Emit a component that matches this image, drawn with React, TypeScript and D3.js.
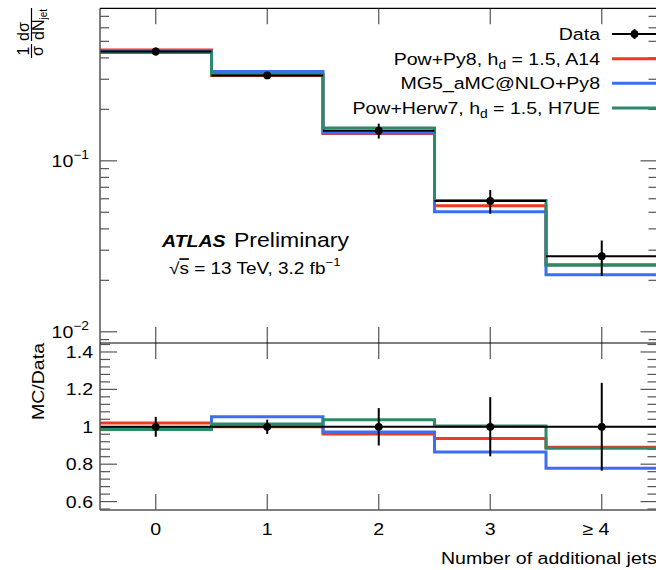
import React from "react";
import * as d3 from "d3";

// ---- data ----
const categories = ["0", "1", "2", "3", "≥ 4"];
const binCenters = [0, 1, 2, 3, 4];
const dataValues = [0.436, 0.316, 0.15, 0.0583, 0.0277];
const dataRelErr = [0.053, 0.038, 0.1, 0.158, 0.235];
const ratioPowPy8 = [1.02, 1.0, 0.962, 0.938, 0.89];
const ratioMG5 = [0.995, 1.053, 0.972, 0.865, 0.778];
const ratioPowHerw7 = [0.985, 1.015, 1.038, 1.004, 0.885];
const seriesNames = ["Pow+Py8", "MG5_aMC@NLO+Py8", "Pow+Herw7"];
const seriesColors = ["#ee3a1f", "#3b6ef5", "#2b8a68"];

const FONT = "'Liberation Sans', Arial, Helvetica, sans-serif";
const SX = 1.15;

function T(props: any) {
  const { x, y, size = 17, anchor = "start", children, weight, italic, sx = SX, rotate } = props;
  const tr = `translate(${x},${y})${rotate ? ` rotate(${rotate})` : ""} scale(${sx},1)`;
  return (
    <text
      transform={tr}
      fontSize={size}
      textAnchor={anchor}
      fontFamily={FONT}
      fontWeight={weight || "normal"}
      fontStyle={italic ? "italic" : "normal"}
      fill="#000"
    >
      {children}
    </text>
  );
}

export default function App() {
  const W = 656, H = 570;
  const x0 = 100, x1 = 657.5;
  const yTop = 8.3, yMid = 343, yBot = 510;
  const x = d3.scaleLinear().domain([-0.5, 4.5]).range([x0, x1]);
  const y = d3.scaleLog().domain([0.0086, 0.78]).range([yMid, yTop]);
  const r = d3.scaleLinear().domain([0.555, 1.448]).range([yBot, yMid]);
  const edges = binCenters.map((c) => c - 0.5).concat([4.5]);

  const ratios = [ratioPowPy8, ratioMG5, ratioPowHerw7];
  const mcValues = ratios.map((rs) => rs.map((q, i) => q * dataValues[i]));

  const stepPts = (vals: number[]) =>
    vals.map((v, i) => [edges[i], v] as [number, number]).concat([[edges[vals.length], vals[vals.length - 1]]]);
  const upperLine = d3.line<[number, number]>().x((d) => x(d[0])).y((d) => y(d[1])).curve(d3.curveStepAfter);
  const ratioLine = d3.line<[number, number]>().x((d) => x(d[0])).y((d) => r(d[1])).curve(d3.curveStepAfter);

  const axisCol = "#555";
  const logTicks = y.ticks().filter((t) => t >= 0.0086 && t <= 0.78);
  const isMajor = (t: number) => Math.abs(Math.log10(t) - Math.round(Math.log10(t))) < 1e-6;
  const rTicks = d3.range(14, 37).map((k) => ({ v: k * 0.04, major: k % 5 === 0 }));
  const rLabels = [0.6, 0.8, 1.0, 1.2, 1.4];
  const legendRows = [34, 58.7, 83.3, 108];

  return (
    <svg width={W} height={H} style={{ position: "absolute", left: 0, top: 0, background: "#fff" }}>
      <rect x={0} y={0} width={W} height={H} fill="#fff" />

      {/* upper pad y ticks */}
      {logTicks.map((t, i) => {
        const L = isMajor(t) ? 17 : 9;
        return (
          <g key={"lt" + i} stroke={axisCol} strokeWidth={1.2}>
            <line x1={x0} x2={x0 + L} y1={y(t)} y2={y(t)} />
            <line x1={x1} x2={x1 - L} y1={y(t)} y2={y(t)} />
          </g>
        );
      })}
      {/* ratio pad y ticks */}
      {rTicks.map((t, i) => {
        const L = t.major ? 17 : 10;
        return (
          <g key={"rt" + i} stroke={axisCol} strokeWidth={1.2}>
            <line x1={x0} x2={x0 + L} y1={r(t.v)} y2={r(t.v)} />
            <line x1={x1} x2={x1 - L} y1={r(t.v)} y2={r(t.v)} />
          </g>
        );
      })}
      {/* x ticks */}
      {binCenters.map((c, i) => (
        <g key={"xt" + i} stroke={axisCol} strokeWidth={1.2}>
          <line x1={x(c)} x2={x(c)} y1={yTop} y2={yTop + 16} />
          <line x1={x(c)} x2={x(c)} y1={yMid - 16} y2={yMid + 16} />
          <line x1={x(c)} x2={x(c)} y1={yBot} y2={yBot - 16} />
        </g>
      ))}

      {/* MC histograms upper */}
      {mcValues.map((vals, s) => (
        <path key={"mu" + s} d={upperLine(stepPts(vals)) || ""} fill="none" stroke={seriesColors[s]} strokeWidth={3} />
      ))}
      {/* Data upper */}
      {dataValues.map((v, i) => (
        <g key={"du" + i} stroke="#000" strokeWidth={2}>
          <line x1={x(edges[i])} x2={x(edges[i + 1])} y1={y(v)} y2={y(v)} />
          <line x1={x(binCenters[i])} x2={x(binCenters[i])} y1={y(v * (1 + dataRelErr[i]))} y2={y(v * (1 - dataRelErr[i]))} />
          <circle cx={x(binCenters[i])} cy={y(v)} r={3.9} fill="#000" stroke="none" />
        </g>
      ))}

      {/* MC ratios */}
      {ratios.map((vals, s) => (
        <path key={"mr" + s} d={ratioLine(stepPts(vals)) || ""} fill="none" stroke={seriesColors[s]} strokeWidth={3} />
      ))}
      {dataValues.map((v, i) => (
        <g key={"dr" + i} stroke="#000" strokeWidth={2}>
          <line x1={x(edges[i])} x2={x(edges[i + 1])} y1={r(1)} y2={r(1)} />
          <line x1={x(binCenters[i])} x2={x(binCenters[i])} y1={r(1 + dataRelErr[i])} y2={r(1 - dataRelErr[i])} />
          <circle cx={x(binCenters[i])} cy={r(1)} r={3.9} fill="#000" stroke="none" />
        </g>
      ))}

      {/* frames */}
      <line x1={x0} x2={x0} y1={yTop} y2={yBot} stroke={axisCol} strokeWidth={1.5} />
      <line x1={x0} x2={x1} y1={yTop} y2={yTop} stroke="#000" strokeWidth={1.2} />
      <line x1={x0} x2={x1} y1={yMid} y2={yMid} stroke="#000" strokeWidth={1.2} />
      <line x1={x0} x2={x1} y1={yBot} y2={yBot} stroke={axisCol} strokeWidth={1.5} />
      <line x1={x1} x2={x1} y1={yTop} y2={yBot} stroke={axisCol} strokeWidth={1.5} />

      {/* y tick labels upper */}
      {logTicks.filter(isMajor).map((t, i) => (
        <T key={"ll" + i} x={89} y={y(t) + 6} anchor="end">
          10<tspan fontSize={12} dy={-8}>−{Math.round(-Math.log10(t))}</tspan>
        </T>
      ))}
      {/* ratio tick labels */}
      {rLabels.map((v, i) => (
        <T key={"rl" + i} x={93} y={r(v) + 6} anchor="end">
          {d3.format("")(+v.toFixed(1))}
        </T>
      ))}
      {/* x tick labels */}
      {categories.map((c, i) => (
        <T key={"xl" + i} x={x(binCenters[i]) - (i === 4 ? 6 : 0)} y={535} anchor="middle">
          {c}
        </T>
      ))}
      <T x={657} y={564} anchor="end">Number of additional jets</T>

      {/* y titles */}
      <T x={43.5} y={381.5} anchor="middle" rotate={-90}>MC/Data</T>
      <g transform="translate(31.5,58) rotate(-90)" fontFamily={FONT} fontSize={16}>
        <line x1={0} x2={14} y1={0} y2={0} stroke="#000" strokeWidth={1.2} />
        <text x={7} y={-3} textAnchor="middle">1</text>
        <text x={7} y={11} textAnchor="middle">σ</text>
        <line x1={17} x2={50} y1={0} y2={0} stroke="#000" strokeWidth={1.2} />
        <text x={26.5} y={-3} textAnchor="middle">dσ</text>
        <text x={18} y={12} textAnchor="start">dN<tspan fontSize={10} dy={3}>jet</tspan></text>
      </g>

      {/* ATLAS label */}
      <T x={162} y={247} weight="bold" italic>ATLAS</T>
      <T x={234} y={247} size={20}>Preliminary</T>
      <T x={169} y={274} size={16.5}>
        √<tspan textDecoration="overline">s</tspan> = 13 TeV, 3.2 fb<tspan fontSize={11.5} dy={-8}>−1</tspan>
      </T>

      {/* legend */}
      <T x={600} y={legendRows[0] + 6} anchor="end">Data</T>
      <line x1={612} x2={660} y1={legendRows[0]} y2={legendRows[0]} stroke="#000" strokeWidth={2} />
      <line x1={634.5} x2={634.5} y1={legendRows[0] - 5} y2={legendRows[0] + 5} stroke="#000" strokeWidth={2} />
      <circle cx={634.5} cy={legendRows[0]} r={3.9} fill="#000" />

      <T x={600} y={legendRows[1] + 6} anchor="end">
        {seriesNames[0]}, h<tspan fontSize={12} dy={4}>d</tspan><tspan dy={-4}> = 1.5, A14</tspan>
      </T>
      <T x={600} y={legendRows[2] + 6} anchor="end">{seriesNames[1]}</T>
      <T x={600} y={legendRows[3] + 6} anchor="end">
        {seriesNames[2]}, h<tspan fontSize={12} dy={4}>d</tspan><tspan dy={-4}> = 1.5, H7UE</tspan>
      </T>
      {seriesColors.map((c, s) => (
        <line key={"lg" + s} x1={612} x2={660} y1={legendRows[s + 1]} y2={legendRows[s + 1]} stroke={c} strokeWidth={3} />
      ))}
    </svg>
  );
}
